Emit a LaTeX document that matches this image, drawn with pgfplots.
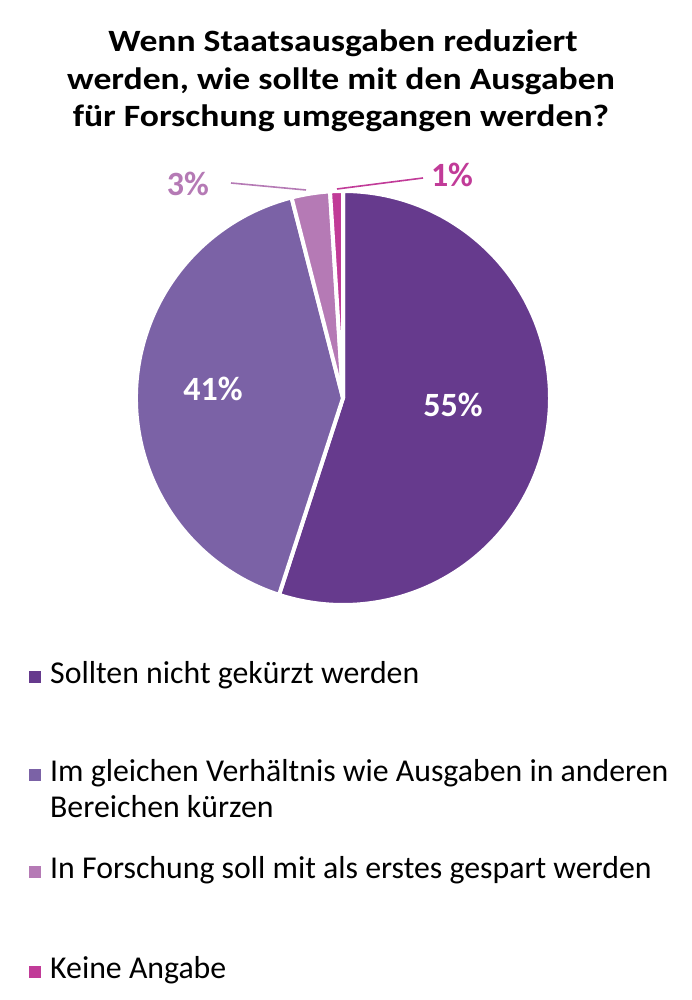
\documentclass[border=0pt]{standalone}
\usepackage{pgfplots}
\pgfplotsset{compat=1.18}
\usepackage{fontspec}
\setmainfont{Carlito}
\newfontfamily\titlefont[FakeStretch=1.15]{Carlito}
\definecolor{c1}{HTML}{663A8D}
\definecolor{c2}{HTML}{7B62A6}
\definecolor{c3}{HTML}{B57AB5}
\definecolor{c4}{HTML}{C13B98}
\begin{document}
\begin{tikzpicture}
\begin{axis}[
  width=691bp, height=1000bp, scale only axis,
  xmin=0, xmax=691, ymin=0, ymax=1000,
  enlargelimits=false, axis lines=none, clip=false,
]
\path (axis cs:0,0) rectangle (axis cs:691,1000);
% title
\begin{scope}[every node/.style={anchor=base, inner sep=0pt, font=\titlefont\fontsize{31bp}{37bp}\selectfont\bfseries}]
\node at (axis cs:343,948) {Wenn Staatsausgaben reduziert};
\node at (axis cs:341,910) {werden, wie sollte mit den Ausgaben};
\node at (axis cs:341,873) {für Forschung umgegangen werden?};
\end{scope}
% pie: values in percent, clockwise from the top
\xdef\curang{90}
\foreach \v/\c in {55/c1, 41/c2, 3/c3, 1/c4} {
  \pgfmathsetmacro\e{\curang-3.6*\v}
  \pgfmathsetmacro\xs{343+207*cos(\curang)}
  \pgfmathsetmacro\ys{602+207*sin(\curang)}
  \edef\temp{\noexpand\fill[\c, draw=white, line width=4bp, line join=miter]
     (axis cs:343,602) -- (axis cs:\xs,\ys) arc[start angle=\curang, end angle=\e, radius=207bp] -- cycle;}
  \temp
  \xdef\curang{\e}
}
% labels
\node[anchor=base, text=white, font=\fontsize{34bp}{40bp}\selectfont\bfseries] at (axis cs:453,583) {55\%};
\node[anchor=base, text=white, font=\fontsize{34bp}{40bp}\selectfont\bfseries] at (axis cs:213,599) {41\%};
\node[anchor=base, text=c3, font=\fontsize{34bp}{40bp}\selectfont\bfseries] at (axis cs:188,804) {3\%};
\node[anchor=base, text=c4, font=\fontsize{34bp}{40bp}\selectfont\bfseries] at (axis cs:452,813) {1\%};
\draw[c3, line width=1.6bp] (axis cs:231,817) -- (axis cs:306,810);
\draw[c4, line width=1.6bp] (axis cs:337,811) -- (axis cs:423,822);
% legend
\fill[c1] (axis cs:28.5,317) rectangle (axis cs:40.5,329);
\fill[c2] (axis cs:28.5,219) rectangle (axis cs:40.5,231);
\fill[c3] (axis cs:28.5,122) rectangle (axis cs:40.5,134);
\fill[c4] (axis cs:28.5,22) rectangle (axis cs:40.5,34);
\begin{scope}[every node/.style={anchor=base west, inner sep=0pt, font=\fontsize{31.8bp}{36bp}\selectfont}]
\node at (axis cs:50,316) {Sollten nicht gekürzt werden};
\node at (axis cs:50,218) {Im gleichen Verhältnis wie Ausgaben in anderen};
\node at (axis cs:50,182) {Bereichen kürzen};
\node at (axis cs:50,121) {In Forschung soll mit als erstes gespart werden};
\node at (axis cs:50,21) {Keine Angabe};
\end{scope}
\end{axis}
\end{tikzpicture}
\end{document}
